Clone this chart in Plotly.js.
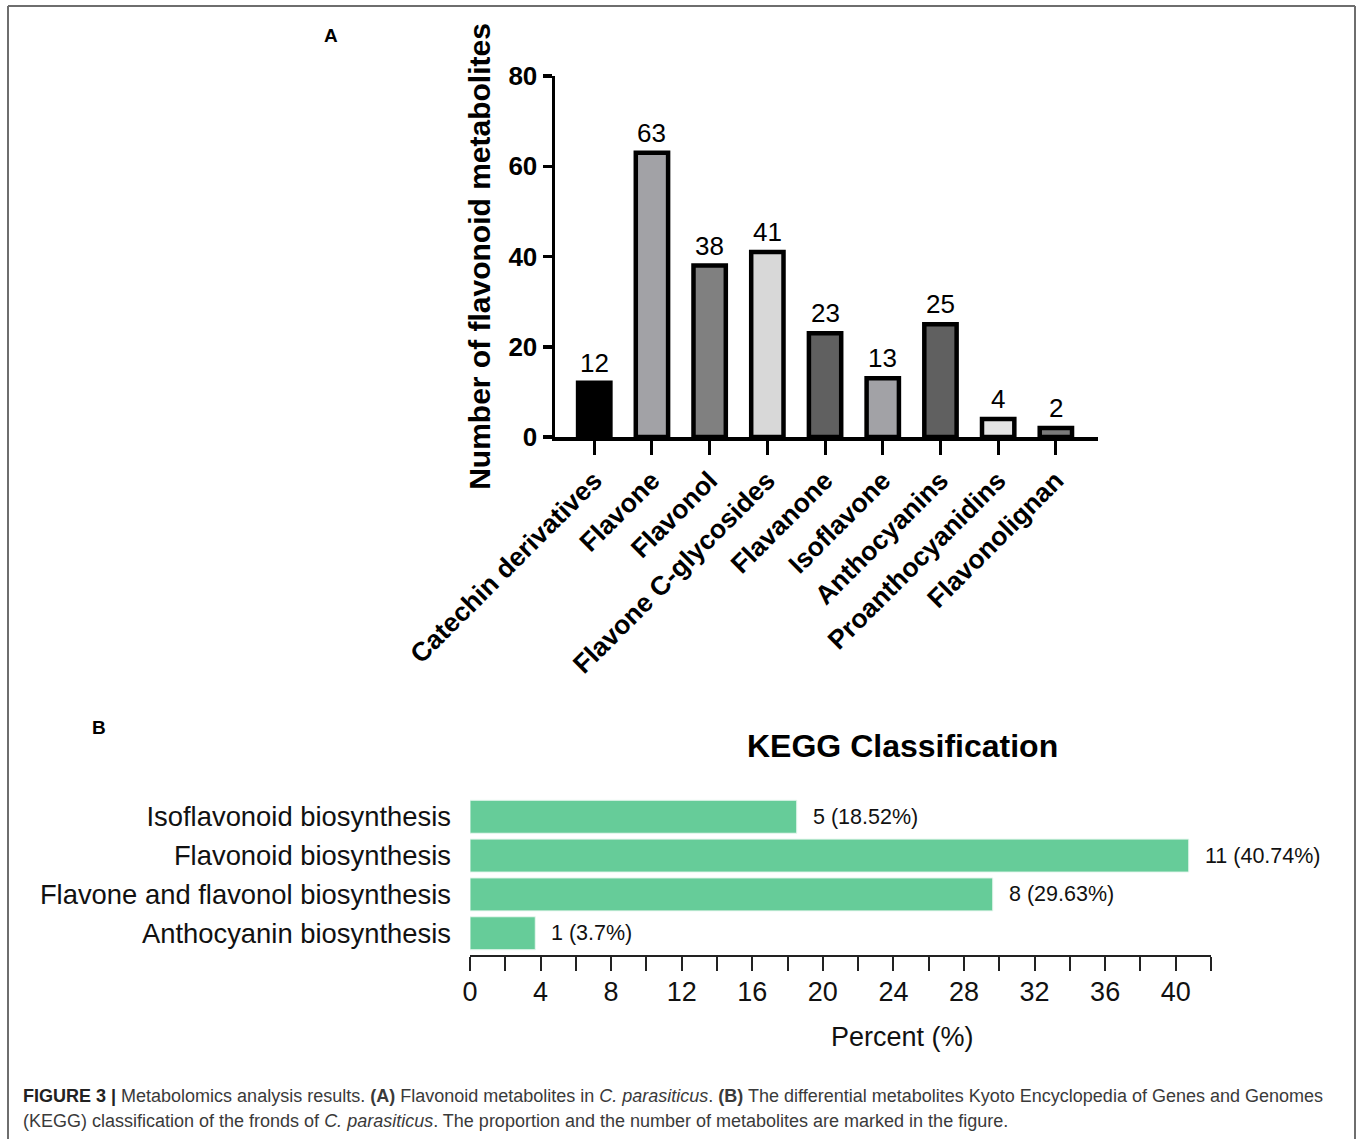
<!DOCTYPE html>
<html>
<head>
<meta charset="utf-8">
<script src="https://cdn.plot.ly/plotly-3.0.1.min.js"></script>
<style>
  html, body { margin: 0; padding: 0; background: #ffffff; }
  #chart { width: 1357px; height: 1139px; }
</style>
</head>
<body>
<div id="chart"></div>
<script>
// ---------- Data: panel A ----------
const flavonoidClasses = ["Catechin derivatives", "Flavone", "Flavonol", "Flavone C-glycosides",
  "Flavanone", "Isoflavone", "Anthocyanins", "Proanthocyanidins", "Flavonolignan"];
const flavonoidCounts = [12, 63, 38, 41, 23, 13, 25, 4, 2];
const flavonoidColors = ["#000000", "#a2a2a6", "#808080", "#d8d8d8", "#606060",
  "#a2a2a6", "#606060", "#e4e4e4", "#7a7a7a"];
const yTicksA = [0, 20, 40, 60, 80];

// ---------- Data: panel B ----------
const keggPathways = ["Isoflavonoid biosynthesis", "Flavonoid biosynthesis",
  "Flavone and flavonol biosynthesis", "Anthocyanin biosynthesis"];
const keggCounts = [5, 11, 8, 1];
const keggPercents = [18.52, 40.74, 29.63, 3.7];
const xTicksB = [0, 4, 8, 12, 16, 20, 24, 28, 32, 36, 40];

// ---------- Geometry helpers (pixels -> paper) ----------
const W = 1357, H = 1139;
const fx = p => p / W;
const fy = p => 1 - p / H;
const FONT = "Liberation Sans, Arial, Helvetica, sans-serif";

const traceA = {
  type: "bar",
  x: flavonoidClasses,
  y: flavonoidCounts,
  xaxis: "x", yaxis: "y",
  marker: { color: flavonoidColors, line: { color: "#000000", width: 4.5 } },
  hoverinfo: "x+y",
  showlegend: false
};

const traceB = {
  type: "bar",
  orientation: "h",
  x: keggPercents,
  y: keggPathways,
  xaxis: "x2", yaxis: "y2",
  width: 0.85,
  marker: { color: "#66cc99", line: { color: "#e8f7ef", width: 1 } },
  showlegend: false
};

const annotations = [];
// value labels A
flavonoidClasses.forEach((c, i) => {
  annotations.push({
    xref: "x", yref: "y", x: c, y: flavonoidCounts[i],
    text: String(flavonoidCounts[i]), showarrow: false,
    xanchor: "center", yanchor: "bottom", yshift: 3,
    font: { family: FONT, size: 26, color: "#000" }
  });
});
// value labels B
keggPathways.forEach((c, i) => {
  annotations.push({
    xref: "x2", yref: "y2", x: keggPercents[i], y: c,
    text: keggCounts[i] + " (" + keggPercents[i] + "%)", showarrow: false,
    xanchor: "left", yanchor: "middle", xshift: 14,
    font: { family: FONT, size: 21.5, color: "#111" }
  });
});
// panel letters, titles & caption
annotations.push(
  { xref: "paper", yref: "paper", x: fx(331), y: fy(35), text: "<b>A</b>", showarrow: false,
    xanchor: "center", yanchor: "middle", font: { family: FONT, size: 19, color: "#000" } },
  { xref: "paper", yref: "paper", x: fx(99), y: fy(727), text: "<b>B</b>", showarrow: false,
    xanchor: "center", yanchor: "middle", font: { family: FONT, size: 19, color: "#000" } },
  { xref: "paper", yref: "paper", x: fx(902), y: fy(746), text: "<b>KEGG Classification</b>", showarrow: false,
    xanchor: "center", yanchor: "middle", font: { family: FONT, size: 32, color: "#000" } },
  { xref: "paper", yref: "paper", x: fx(902), y: fy(1037), text: "Percent (%)", showarrow: false,
    xanchor: "center", yanchor: "middle", font: { family: FONT, size: 27, color: "#111" } },
  { xref: "paper", yref: "paper", x: fx(21), y: fy(1096), showarrow: false, xanchor: "left", yanchor: "middle",
    align: "left", font: { family: FONT, size: 18, color: "#3a3a3a" },
    text: "<b><span style='color:#222'>FIGURE 3 |</span></b> Metabolomics analysis results. <b>(A)</b> Flavonoid metabolites in <i>C. parasiticus</i>. <b>(B)</b> The differential metabolites Kyoto Encyclopedia of Genes and Genomes" },
  { xref: "paper", yref: "paper", x: fx(21), y: fy(1121), showarrow: false, xanchor: "left", yanchor: "middle",
    align: "left", font: { family: FONT, size: 18, color: "#3a3a3a" },
    text: "(KEGG) classification of the fronds of <i>C. parasiticus</i>. The proportion and the number of metabolites are marked in the figure." }
);

const frame = { color: "#6e6e6e", width: 2 };
const shapes = [
  { type: "line", xref: "paper", yref: "paper", x0: fx(8), x1: fx(8), y0: fy(6), y1: 0, line: frame },
  { type: "line", xref: "paper", yref: "paper", x0: fx(1355), x1: fx(1355), y0: fy(6), y1: 0, line: frame },
  { type: "line", xref: "paper", yref: "paper", x0: fx(8), x1: fx(1355), y0: fy(6), y1: fy(6), line: frame }
];

const layout = {
  width: W, height: H,
  margin: { l: 0, r: 0, t: 0, b: 0, pad: 0 },
  paper_bgcolor: "#ffffff", plot_bgcolor: "#ffffff",
  font: { family: FONT, color: "#000" },
  bargap: 0.44,
  showlegend: false,
  xaxis: {
    domain: [fx(555), fx(1098)],
    anchor: "y",
    type: "category",
    range: [-0.68, 8.73],
    showline: true, linecolor: "#000", linewidth: 3.5,
    ticks: "outside", ticklen: 14, tickwidth: 3, tickcolor: "#000",
    tickangle: -45,
    tickfont: { family: FONT, size: 26.5, color: "#000", weight: "bold" },
    showgrid: false, zeroline: false, fixedrange: true
  },
  yaxis: {
    domain: [fy(437), fy(76)],
    anchor: "x",
    range: [0, 80],
    tickvals: yTicksA,
    showline: true, linecolor: "#000", linewidth: 3.5,
    ticks: "outside", ticklen: 9, tickwidth: 3.5, tickcolor: "#000",
    tickfont: { family: FONT, size: 26, color: "#000", weight: "bold" },
    showgrid: false, zeroline: false,
    title: { text: "<b>Number of flavonoid metabolites</b>", font: { family: FONT, size: 30, color: "#000" }, standoff: 10 },
    fixedrange: true
  },
  xaxis2: {
    domain: [fx(470), fx(1211)],
    anchor: "y2",
    range: [0, 42],
    tickvals: xTicksB,
    showline: true, linecolor: "#222", linewidth: 2,
    ticks: "outside", ticklen: 14, tickwidth: 2, tickcolor: "#222",
    minor: { dtick: 2, tick0: 0, ticks: "outside", ticklen: 14, tickwidth: 2, tickcolor: "#222" },
    tickfont: { family: FONT, size: 27, color: "#111" },
    ticklabelstandoff: -2,
    showgrid: false, zeroline: false,
    fixedrange: true
  },
  yaxis2: {
    domain: [fy(955), fy(795)],
    anchor: "x2",
    type: "category",
    categoryarray: keggPathways,
    range: [3.56, -0.56],
    showline: false, ticks: "",
    ticklabelstandoff: 18,
    tickfont: { family: FONT, size: 27.4, color: "#111" },
    showgrid: false, zeroline: false, fixedrange: true
  },
  annotations: annotations,
  shapes: shapes
};

Plotly.newPlot("chart", [traceA, traceB], layout, { displayModeBar: false, staticPlot: true });
</script>
</body>
</html>
